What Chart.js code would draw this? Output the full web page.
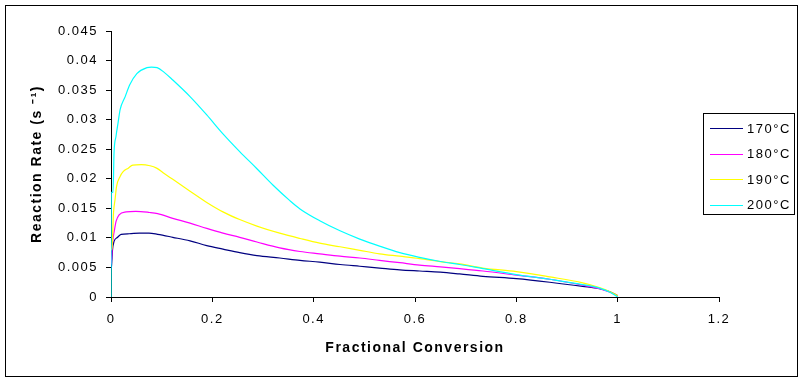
<!DOCTYPE html>
<html><head><meta charset="utf-8">
<script src="https://cdn.jsdelivr.net/npm/chart.js@4/dist/chart.umd.min.js"></script>
<style>html,body{margin:0;padding:0;background:#fff}</style>
</head><body>
<canvas id="c" width="803" height="381"></canvas>
<script>
const seriesNames = ['170°C', '180°C', '190°C', '200°C'];
const seriesColors = ['#000080', '#FF00FF', '#FFFF00', '#00FFFF'];

const x170 = [0, 0.001, 0.003, 0.006, 0.013, 0.02, 0.036, 0.056, 0.075, 0.092, 0.122, 0.156, 0.189, 0.221, 0.254, 0.288, 0.333, 0.373, 0.412, 0.452, 0.491, 0.53, 0.57, 0.609, 0.65, 0.688, 0.734, 0.8, 0.866, 0.931, 0.964, 0.985, 1.0];
const y170 = [0.0048, 0.0052, 0.008, 0.0094, 0.0101, 0.0106, 0.0107, 0.0108, 0.0108, 0.0106, 0.0101, 0.0095, 0.0087, 0.0081, 0.0075, 0.007, 0.0066, 0.0062, 0.0059, 0.0055, 0.0052, 0.0049, 0.0046, 0.0044, 0.0042, 0.0039, 0.0035, 0.0031, 0.0025, 0.0018, 0.0014, 0.0009, 0.0002];

const x180 = [0, 0.001, 0.003, 0.007, 0.01, 0.016, 0.03, 0.049, 0.076, 0.092, 0.122, 0.156, 0.189, 0.221, 0.254, 0.288, 0.333, 0.373, 0.412, 0.452, 0.491, 0.53, 0.57, 0.609, 0.65, 0.688, 0.734, 0.8, 0.866, 0.931, 0.964, 0.985, 1.0];
const y180 = [0.0055, 0.0063, 0.0091, 0.0114, 0.0128, 0.0139, 0.0144, 0.0145, 0.0143, 0.0141, 0.0133, 0.0125, 0.0116, 0.0108, 0.0101, 0.0093, 0.0083, 0.0077, 0.0073, 0.0069, 0.0066, 0.0062, 0.0058, 0.0054, 0.0051, 0.0048, 0.0044, 0.0037, 0.003, 0.002, 0.0014, 0.0008, 0.0002];

const x190 = [0, 0.002, 0.005, 0.008, 0.011, 0.018, 0.024, 0.034, 0.043, 0.06, 0.077, 0.09, 0.105, 0.122, 0.156, 0.189, 0.221, 0.254, 0.288, 0.333, 0.373, 0.412, 0.452, 0.491, 0.53, 0.57, 0.609, 0.65, 0.688, 0.734, 0.8, 0.866, 0.931, 0.964, 0.985, 1.0];
const y190 = [0.0079, 0.0084, 0.0143, 0.0165, 0.0187, 0.0204, 0.0212, 0.0218, 0.0223, 0.0224, 0.0222, 0.0218, 0.0209, 0.0199, 0.0179, 0.016, 0.0144, 0.0131, 0.012, 0.0108, 0.0099, 0.0091, 0.0085, 0.0079, 0.0073, 0.0069, 0.0065, 0.006, 0.0056, 0.0049, 0.0043, 0.0034, 0.0024, 0.0016, 0.0009, 0.0002];

const x200 = [0, 0.0005, 0.004, 0.006, 0.0099, 0.014, 0.018, 0.028, 0.037, 0.051, 0.071, 0.08, 0.091, 0.105, 0.122, 0.156, 0.189, 0.221, 0.254, 0.288, 0.32, 0.353, 0.373, 0.412, 0.452, 0.491, 0.53, 0.57, 0.609, 0.65, 0.688, 0.734, 0.8, 0.866, 0.931, 0.964, 0.985, 1.0];
const y200 = [0, 0.0177, 0.0177, 0.0244, 0.0272, 0.0295, 0.0317, 0.0339, 0.0359, 0.0378, 0.0388, 0.0389, 0.0388, 0.038, 0.0367, 0.0339, 0.0308, 0.0276, 0.0246, 0.0217, 0.0189, 0.0163, 0.0149, 0.0129, 0.0112, 0.0098, 0.0086, 0.0075, 0.0067, 0.006, 0.0055, 0.0048, 0.0038, 0.003, 0.0021, 0.0015, 0.0008, 0];

const xTickValues = [0, 0.2, 0.4, 0.6, 0.8, 1, 1.2];
const xTickLabels = ['0', '0.2', '0.4', '0.6', '0.8', '1', '1.2'];
const yTickValues = [0, 0.005, 0.01, 0.015, 0.02, 0.025, 0.03, 0.035, 0.04, 0.045];
const yTickLabels = ['0', '0.005', '0.01', '0.015', '0.02', '0.025', '0.03', '0.035', '0.04', '0.045'];

const xTitle = 'Fractional Conversion';
const yTitle = 'Reaction Rate (s \u207B\u00B9)';

const seriesX = [x170, x180, x190, x200];
const seriesY = [y170, y180, y190, y200];

Chart.defaults.font.family = '"Liberation Sans", Arial, sans-serif';
Chart.defaults.color = '#000';

const datasets = seriesNames.map((name, i) => ({
  label: name,
  data: seriesX[i].map((x, j) => ({ x: x, y: seriesY[i][j] })),
  borderColor: seriesColors[i],
  backgroundColor: seriesColors[i],
  borderWidth: 1.2,
  pointRadius: 0,
  cubicInterpolationMode: 'monotone',
  fill: false,
  showLine: true,
  order: 4 - i
}));

const framePlugin = {
  id: 'frame',
  beforeDraw(chart) {
    const ctx = chart.ctx;
    ctx.save();
    ctx.fillStyle = '#fff';
    ctx.fillRect(0, 0, chart.width, chart.height);
    ctx.restore();
    ctx.letterSpacing = '1.5px';
  },
  afterDraw(chart) {
    const ctx = chart.ctx;
    ctx.save();
    ctx.strokeStyle = '#000';
    ctx.lineWidth = 1;
    ctx.strokeRect(5.5, 5.5, 792, 371);
    // legend box
    ctx.fillStyle = '#fff';
    ctx.fillRect(703.5, 113.5, 91, 101);
    ctx.strokeRect(703.5, 113.5, 91, 101);
    ctx.font = '13px "Liberation Sans", Arial, sans-serif';
    ctx.textBaseline = 'middle';
    ctx.textAlign = 'left';
    chart.data.datasets.forEach((ds, i) => {
      const yy = 128 + i * 25.5;
      ctx.strokeStyle = ds.borderColor;
      ctx.lineWidth = 1.2;
      ctx.beginPath();
      ctx.moveTo(710, Math.round(yy) + 0.5);
      ctx.lineTo(743, Math.round(yy) + 0.5);
      ctx.stroke();
      ctx.fillStyle = '#000';
      ctx.fillText(ds.label, 747, yy + 1);
    });
    ctx.restore();
  }
};

new Chart(document.getElementById('c'), {
  type: 'scatter',
  data: { datasets: datasets },
  options: {
    responsive: false,
    animation: false,
    devicePixelRatio: 1,
    layout: { padding: { top: 31, right: 84, bottom: 0, left: 0 } },
    plugins: { legend: { display: false }, tooltip: { enabled: false } },
    scales: {
      x: {
        type: 'linear', min: 0, max: 1.2,
        afterBuildTicks: s => { s.ticks = xTickValues.map(v => ({ value: v })); },
        afterFit: s => { s.height = 84; },
        ticks: {
          callback: (v, idx) => xTickLabels[idx],
          font: { size: 13 }, padding: 10, maxRotation: 0, autoSkip: false, color: '#000'
        },
        grid: { display: true, drawOnChartArea: false, drawTicks: true, tickLength: 5, color: '#000' },
        border: { display: true, color: '#000', width: 1 },
        title: { display: true, text: xTitle, font: { size: 14, weight: 'bold' }, padding: { top: 0, bottom: 24 }, color: '#000' }
      },
      y: {
        type: 'linear', min: 0, max: 0.045,
        afterBuildTicks: s => { s.ticks = yTickValues.map(v => ({ value: v })); },
        afterFit: s => { s.width = 111; },
        ticks: {
          callback: (v, idx) => yTickLabels[idx],
          font: { size: 13 }, padding: 8, autoSkip: false, color: '#000'
        },
        grid: { display: true, drawOnChartArea: false, drawTicks: true, tickLength: 5, color: '#000' },
        border: { display: true, color: '#000', width: 1 },
        title: { display: true, text: yTitle, font: { size: 14, weight: 'bold' }, padding: { top: 29, bottom: 0 }, color: '#000' }
      }
    }
  },
  plugins: [framePlugin]
});
</script>
</body></html>
